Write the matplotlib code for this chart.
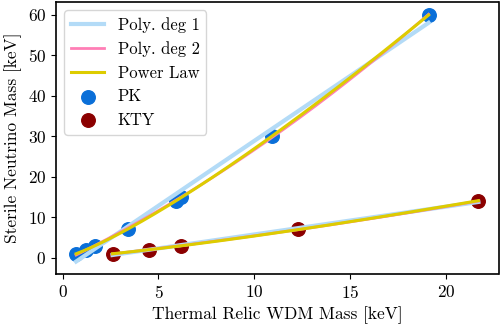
import numpy as np
import matplotlib
matplotlib.use("Agg")
import matplotlib.pyplot as plt

plt.rcParams["font.family"] = "serif"
plt.rcParams["font.serif"] = ["cmr10", "DejaVu Serif"]
plt.rcParams["mathtext.fontset"] = "cm"
plt.rcParams["axes.formatter.use_mathtext"] = True
plt.rcParams["axes.unicode_minus"] = False

# Thermal relic WDM mass vs. sterile neutrino mass [keV]
pk_thermal = [0.7, 1.2, 1.7, 3.4, 5.9, 6.2, 10.9, 19.1]
pk_sterile = [1.0, 2.0, 3.0, 7.0, 14.0, 15.0, 30.0, 60.0]
kty_thermal = [2.6, 4.5, 6.2, 12.3, 21.7]
kty_sterile = [1.0, 2.0, 3.0, 7.0, 14.0]

fit_colors = {"poly1": "#b3dbf7", "poly2": "#ff7eb6", "power": "#ddcc00"}
pk_color = "#0a6fd8"
kty_color = "#8b0000"

fig, ax = plt.subplots(figsize=(5.0, 3.28), dpi=100)

for i, (xs, ys) in enumerate([(pk_thermal, pk_sterile), (kty_thermal, kty_sterile)]):
    xs = np.asarray(xs)
    ys = np.asarray(ys)
    grid = np.linspace(xs.min(), xs.max(), 200)
    p1 = np.polyfit(xs, ys, 1)
    p2 = np.polyfit(xs, ys, 2)
    b, loga = np.polyfit(np.log(xs), np.log(ys), 1)
    ax.plot(grid, np.polyval(p1, grid), color=fit_colors["poly1"], lw=3.0,
            label="Poly. deg 1" if i == 0 else None)
    ax.plot(grid, np.polyval(p2, grid), color=fit_colors["poly2"], lw=2.0,
            label="Poly. deg 2" if i == 0 else None)
    ax.plot(grid, np.exp(loga) * grid ** b, color=fit_colors["power"], lw=2.2,
            label="Power Law" if i == 0 else None)

ax.scatter(pk_thermal, pk_sterile, s=95, color=pk_color, label="PK")
ax.scatter(kty_thermal, kty_sterile, s=95, color=kty_color, label="KTY")

ax.set_xlabel("Thermal Relic WDM Mass [keV]", fontsize=12.5)
ax.set_ylabel("Sterile Neutrino Mass [keV]", fontsize=12.5)
ax.tick_params(labelsize=12.5)
ax.set_xticks([0, 5, 10, 15, 20])
ax.set_yticks([0, 10, 20, 30, 40, 50, 60])
ax.legend(loc="upper left", fontsize=12)
for sp in ax.spines.values():
    sp.set_linewidth(1.2)

fig.subplots_adjust(left=0.112, right=0.997, bottom=0.165, top=0.994)
fig.savefig("out.png", dpi=100)
